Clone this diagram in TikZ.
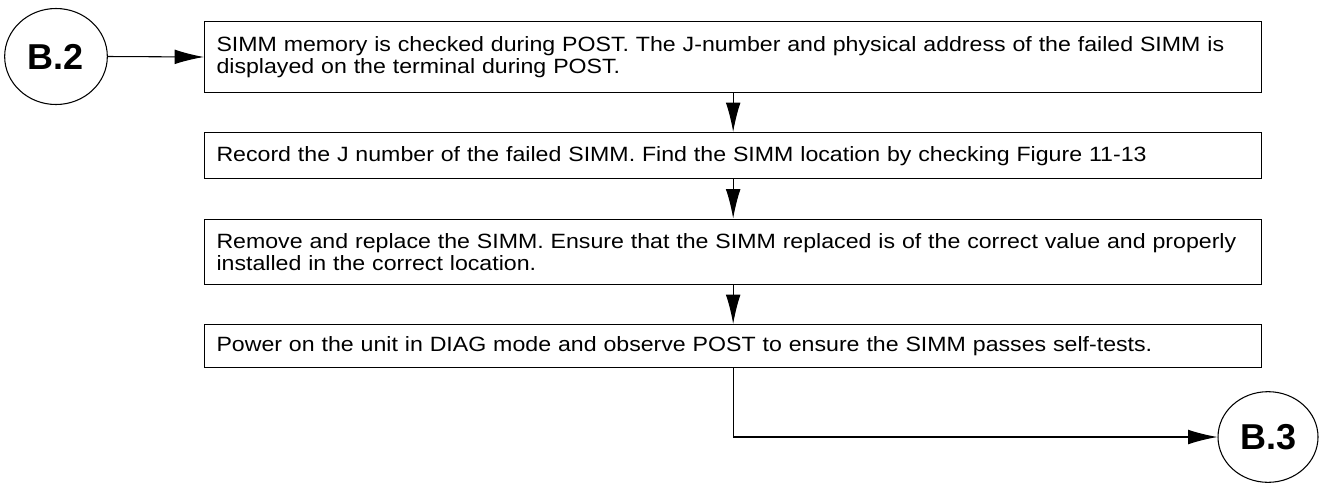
\documentclass[tikz,border=0pt]{standalone}
\usepackage{fontspec}
\setmainfont{Liberation Sans}
\newfontfamily\stepfont{Liberation Sans}[FakeStretch=1.12]
\usepackage{xcolor}
\usetikzlibrary{arrows.meta,shapes.geometric}

\begin{document}
\begin{tikzpicture}[x=0.75pt, y=-0.75pt,
    stepbox/.style={rectangle, draw, line width=1pt, anchor=north west, align=left,
        text width=775pt, inner xsep=8.875pt, inner ysep=0pt,
        execute at begin node={\hyphenpenalty=10000},
        font=\stepfont\fontsize{15.5pt}{16.5pt}\selectfont},
    jumper/.style={ellipse, draw, line width=0.8pt, inner sep=0pt,
        font=\fontsize{27pt}{32pt}\selectfont\bfseries},
    flow/.style={line width=0.8pt, -{Latex[length=22pt, width=11pt]}}]
    \useasboundingbox (0,0) rectangle (1319,483);

    \node[jumper, minimum width=77pt, minimum height=72pt] (b2) at (56,56.5) {B.2};
    \node[jumper, minimum width=75pt, minimum height=68pt] (b3) at (1268,437) {B.3};

    \node[stepbox, minimum height=53pt] (check) at (204,21) {SIMM memory is checked during POST. The J-number and physical address of the failed SIMM is\\displayed on the terminal during POST.};
    \node[stepbox, minimum height=34.5pt] (record) at (204,132) {Record the J number of the failed SIMM. Find the SIMM location by checking Figure 11-13};
    \node[stepbox, minimum height=49pt] (replace) at (204,218.5) {Remove and replace the SIMM. Ensure that the SIMM replaced is of the correct value and properly\\installed in the correct location.};
    \node[stepbox, minimum height=32pt] (power) at (204,324) {Power on the unit in DIAG mode and observe POST to ensure the SIMM passes self-tests.};

    \draw[flow] (b2.east) -- (check.west);
    \draw[flow] (check) -- (record);
    \draw[flow] (record) -- (replace);
    \draw[flow] (replace) -- (power);
    \draw[flow] (power.south) |- (b3.west);
\end{tikzpicture}
\end{document}
